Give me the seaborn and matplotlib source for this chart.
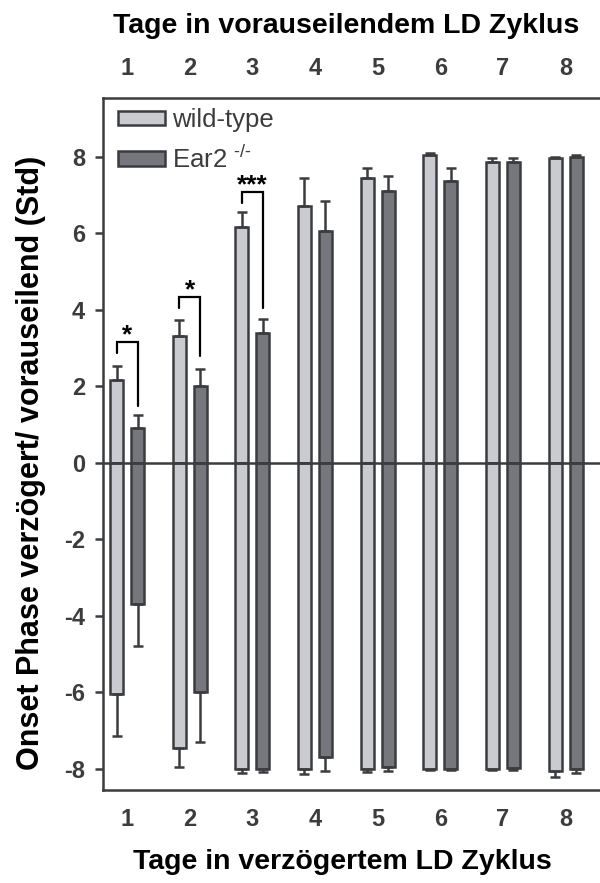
"""
Onset phase shift after advancing / delaying the LD cycle, wild-type vs Ear2-/-.
Grouped bars (positive = advanced, negative = delayed) with one-sided SEM bars.
"""
import pandas as pd
import matplotlib
matplotlib.use("Agg")
import matplotlib.pyplot as plt
import seaborn as sns

sns.set_theme(style="white")
plt.rcParams["font.family"] = ["Liberation Sans", "DejaVu Sans"]
plt.rcParams["mathtext.fontset"] = "custom"
plt.rcParams["mathtext.rm"] = "Liberation Sans"

days = ["1", "2", "3", "4", "5", "6", "7", "8"]
genotypes = ["wild-type", r"Ear2 $^{\text{-/-}}$"]

# advancing LD cycle (upper half)
adv_wt = [2.15, 3.3, 6.15, 6.7, 7.45, 8.05, 7.85, 7.95]
adv_wt_err = [0.38, 0.42, 0.4, 0.75, 0.25, 0.05, 0.1, 0.03]
adv_ko = [0.9, 2.0, 3.4, 6.05, 7.1, 7.35, 7.85, 8.0]
adv_ko_err = [0.35, 0.45, 0.35, 0.8, 0.4, 0.35, 0.1, 0.05]

# delayed LD cycle (lower half)
del_wt = [-6.05, -7.45, -8.0, -8.0, -8.0, -8.0, -8.0, -8.05]
del_wt_err = [1.1, 0.5, 0.1, 0.12, 0.08, 0.02, 0.03, 0.15]
del_ko = [-3.7, -6.0, -8.0, -7.7, -7.95, -8.0, -7.98, -8.0]
del_ko_err = [1.1, 1.3, 0.08, 0.35, 0.1, 0.02, 0.04, 0.1]

# significance brackets on the advanced side
sig_day = [0, 1, 2]
sig_top = [3.15, 4.34, 7.08]
sig_wt_end = [2.87, 4.05, 6.8]
sig_ko_end = [1.48, 2.78, 4.05]
sig_text = ["*", "*", "***"]

yticks = [-8, -6, -4, -2, 0, 2, 4, 6, 8]

WT_COL = "#c9cbd1"
KO_COL = "#76777d"
EDGE = "#3b3c3f"
LW = 1.8


def long_form(wt, ko):
    return pd.DataFrame({
        "day": days * 2,
        "value": wt + ko,
        "genotype": [genotypes[0]] * len(days) + [genotypes[1]] * len(days),
    })


fig = plt.figure(figsize=(6, 8.83), dpi=100)
ax = fig.add_axes([0.1717, 0.1053, 0.8283, 0.7837])

bar_kw = dict(x="day", y="value", hue="genotype", order=days, hue_order=genotypes,
              palette=[WT_COL, KO_COL], saturation=1, width=0.67, gap=0.38,
              edgecolor=EDGE, linewidth=LW, errorbar=None, ax=ax)
sns.barplot(data=long_form(adv_wt, adv_ko), **bar_kw)
sns.barplot(data=long_form(del_wt, del_ko), legend=False, **bar_kw)

# one-sided error bars, pointing away from zero
series = [(adv_wt, adv_wt_err, 1), (adv_ko, adv_ko_err, 1),
          (del_wt, del_wt_err, -1), (del_ko, del_ko_err, -1)]
centers = []
for cont, (vals, err, sign) in zip(ax.containers, series):
    xs = [p.get_x() + p.get_width() / 2 for p in cont.patches]
    centers.append(xs)
    zeros = [0] * len(err)
    yerr = [zeros, err] if sign > 0 else [err, zeros]
    ax.errorbar(xs, vals, yerr=yerr, fmt="none", ecolor=EDGE, elinewidth=LW,
                capsize=3.6, capthick=LW, zorder=1)

ax.axhline(0, color=EDGE, lw=LW, zorder=5)

# significance brackets
for d, top, wend, kend, txt in zip(sig_day, sig_top, sig_wt_end, sig_ko_end, sig_text):
    xw, xk = centers[0][d], centers[1][d]
    ax.plot([xw, xw, xk, xk], [wend, top, top, kend], color="black", lw=1.6,
            solid_joinstyle="miter", zorder=6)
    ax.text((xw + xk) / 2, top - 0.14, txt, ha="center", va="bottom",
            fontsize=19, fontweight="bold", color="black")

ax.set_xlim(-0.383, 7.55)
ax.set_ylim(-8.55, 9.53)
ax.set_yticks(yticks)
ax.set_yticklabels([str(t) for t in yticks])
ax.set_xlabel("")
ax.set_ylabel("Onset Phase verzögert/ vorauseilend (Std)", fontsize=22,
              fontweight="bold", color="black")
ax.yaxis.set_label_coords(-0.114, 0.4725)

for side in ["left", "top", "bottom"]:
    ax.spines[side].set_color(EDGE)
    ax.spines[side].set_linewidth(LW)
ax.spines["right"].set_visible(False)

ax.tick_params(axis="y", left=True, length=6, width=LW, color=EDGE, pad=7,
               labelsize=17, labelcolor="#3c3c3c")
ax.tick_params(axis="x", length=0, pad=13, labelsize=17, labelcolor="#3c3c3c",
               labeltop=True, labelbottom=True)
for lab in ax.get_xticklabels() + ax.get_yticklabels():
    lab.set_fontweight("bold")

leg = ax.legend(loc="upper left", bbox_to_anchor=(0.01, 1.0), frameon=False,
                fontsize=18.5, handlelength=1.8, handleheight=0.5,
                handletextpad=0.3, labelspacing=0.5, borderaxespad=0)
for h in leg.legend_handles:
    h.set_edgecolor(EDGE)
    h.set_linewidth(LW)
for t in leg.get_texts():
    t.set_color("#3c3c3c")

fig.text(0.577, 1 - 26 / 883, "Tage in vorauseilendem LD Zyklus", ha="center",
         va="center", fontsize=20.5, fontweight="bold", color="black")
fig.text(0.57, 1 - 862 / 883, "Tage in verzögertem LD Zyklus", ha="center",
         va="center", fontsize=20.5, fontweight="bold", color="black")

fig.savefig("out.png", dpi=100, facecolor="white")
plt.close(fig)
